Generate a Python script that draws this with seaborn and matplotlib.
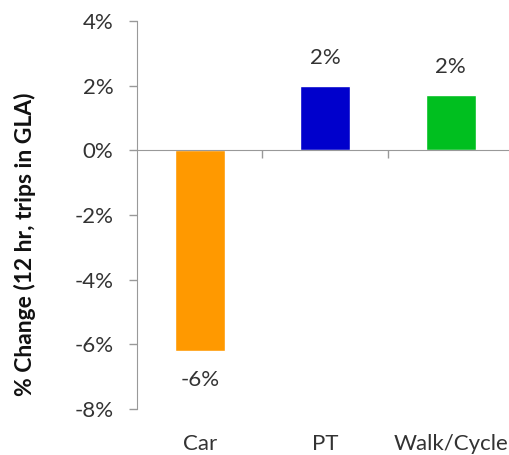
import matplotlib
matplotlib.use("Agg")
import matplotlib.pyplot as plt
import seaborn as sns
from matplotlib.ticker import FuncFormatter

modes = ["Car", "PT", "Walk/Cycle"]
change_pct = [-6.2, 2.0, 1.72]
mode_colors = ["#FF9900", "#0000CC", "#00BF1F"]
y_ticks = [-8, -6, -4, -2, 0, 2, 4]

sns.set_style("white")
plt.rcParams["font.family"] = ["Lato", "DejaVu Sans"]
text_col = "#333333"
axis_col = "#999999"

fig = plt.figure(figsize=(5.10, 4.55), dpi=100)
ax = fig.add_axes([0.2686, 0.1011, 0.738, 0.8527])

sns.barplot(x=modes, y=change_pct, hue=modes, palette=mode_colors,
            width=0.4, legend=False, saturation=1, ax=ax)

ax.set_ylim(-8, 4)
ax.set_xlim(-0.5, 2.5)
ax.set_yticks(y_ticks)
ax.yaxis.set_major_formatter(FuncFormatter(lambda v, _: f"{int(round(v))}%"))
ax.tick_params(axis="y", direction="out", length=6, width=1, color=axis_col,
               labelsize=16, labelcolor=text_col, pad=11, left=True)

# zero line carries the category separators
for s in ["top", "right"]:
    ax.spines[s].set_visible(False)
ax.spines["left"].set_color(axis_col)
ax.spines["bottom"].set_color(axis_col)
ax.spines["bottom"].set_position(("data", 0))
ax.set_xticks([0, 1, 2])
ax.set_xticklabels([])
ax.tick_params(axis="x", which="major", length=0)
ax.set_xticks([0.5, 1.5, 2.5], minor=True)
ax.tick_params(axis="x", which="minor", direction="out", length=6, width=1,
               color=axis_col, bottom=True)

# category names sit below the plot area
sec = ax.secondary_xaxis("bottom")
sec.set_xticks([0, 1, 2])
sec.set_xticklabels(modes)
sec.spines["bottom"].set_visible(False)
sec.tick_params(length=0, pad=18, labelsize=16, labelcolor=text_col)

ax.set_xlabel("")
ax.set_ylabel("% Change (12 hr, trips in GLA)", fontsize=16.5, fontweight="bold",
              color="#111111")
ax.yaxis.set_label_coords(-0.268, 0.425)

for cont in ax.containers:
    v = cont.datavalues[0]
    ax.bar_label(cont, labels=[f"{round(v):.0f}%"], padding=13 if v > 0 else 14,
                 fontsize=16, color=text_col)

fig.savefig("out.png", dpi=100)
